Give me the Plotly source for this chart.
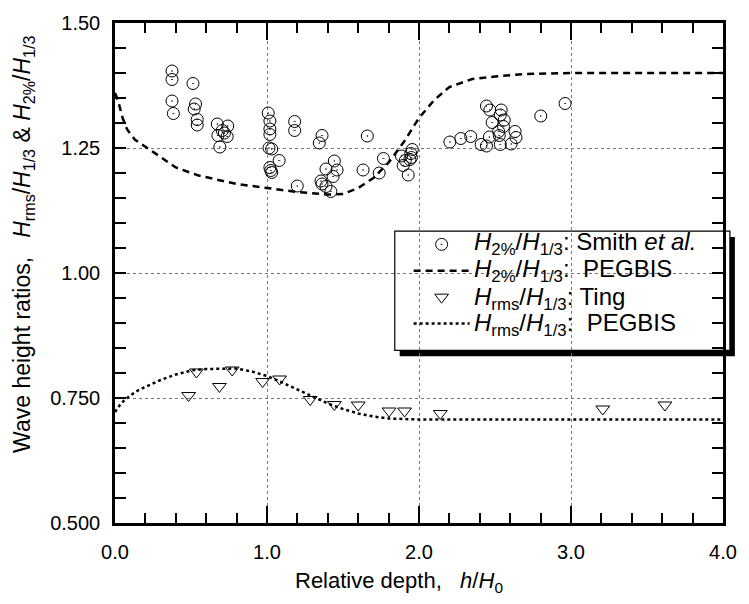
import plotly.graph_objects as go

# ---------------- data ----------------
smith_x = [0.375, 0.375, 0.375, 0.384,
           0.513, 0.530, 0.521, 0.541, 0.541,
           0.673, 0.742, 0.706, 0.738, 0.677, 0.690, 0.720,
           1.008, 1.019, 1.019, 1.019, 1.013, 1.031, 1.019, 1.031, 1.025, 1.080,
           1.182, 1.182, 1.199,
           1.362, 1.344,
           1.443, 1.388, 1.461, 1.435, 1.355, 1.362, 1.388, 1.420,
           1.660, 1.632, 1.738, 1.766,
           1.885, 1.956, 1.946, 1.896, 1.929, 1.950, 1.940, 1.910,
           2.203, 2.275, 2.340,
           2.444, 2.466, 2.541, 2.535, 2.561, 2.481, 2.524, 2.632, 2.638, 2.463,
           2.528, 2.409, 2.444, 2.535, 2.606, 2.556,
           2.801, 2.961]
smith_y = [1.404, 1.387, 1.344, 1.319,
           1.379, 1.338, 1.328, 1.307, 1.296,
           1.298, 1.294, 1.285, 1.273, 1.275, 1.252, 1.280,
           1.320, 1.304, 1.288, 1.277, 1.250, 1.248, 1.211, 1.201, 1.205, 1.225,
           1.303, 1.285, 1.174,
           1.275, 1.260,
           1.224, 1.208, 1.206, 1.193, 1.184, 1.178, 1.173, 1.163,
           1.274, 1.206, 1.200, 1.229,
           1.234, 1.247, 1.239, 1.215, 1.196, 1.231, 1.227, 1.225,
           1.262, 1.269, 1.273,
           1.334, 1.326, 1.326, 1.316, 1.306, 1.301, 1.283, 1.283, 1.271, 1.272,
           1.275, 1.257, 1.254, 1.257, 1.258, 1.293,
           1.314, 1.339]

ting_x = [0.484, 0.536, 0.687, 0.771, 0.971, 1.083, 1.284, 1.443, 1.600,
          1.803, 1.905, 2.140, 3.209, 3.618]
ting_y = [0.755, 0.802, 0.773, 0.806, 0.783, 0.788, 0.747, 0.737, 0.736,
          0.724, 0.724, 0.719, 0.728, 0.736]

peg2_x = [0.0, 0.02, 0.05, 0.08, 0.13, 0.2, 0.3, 0.4, 0.55, 0.8, 1.0, 1.2,
          1.4, 1.5, 1.6, 1.7, 1.8, 1.9, 2.0, 2.1, 2.2, 2.35, 2.5, 2.7, 3.0,
          3.5, 4.0]
peg2_y = [1.360, 1.345, 1.310, 1.287, 1.267, 1.252, 1.232, 1.211, 1.195,
          1.178, 1.170, 1.162, 1.157, 1.158, 1.170, 1.190, 1.221, 1.262,
          1.310, 1.346, 1.372, 1.388, 1.393, 1.398, 1.400, 1.400, 1.400]

pegr_x = [0.0, 0.03, 0.06, 0.1, 0.15, 0.2, 0.3, 0.4, 0.5, 0.6, 0.7, 0.8,
          0.9, 1.0, 1.1, 1.2, 1.3, 1.4, 1.5, 1.6, 1.7, 1.8, 1.9, 2.0, 2.5,
          3.0, 3.5, 4.0]
pegr_y = [0.722, 0.735, 0.745, 0.755, 0.765, 0.772, 0.786, 0.797, 0.805,
          0.808, 0.809, 0.809, 0.803, 0.794, 0.781, 0.767, 0.752, 0.739,
          0.728, 0.719, 0.713, 0.709, 0.708, 0.707, 0.707, 0.707, 0.707,
          0.707]

x_tickvals = [0, 1, 2, 3, 4]
x_ticktext = ["0.0", "1.0", "2.0", "3.0", "4.0"]
y_tickvals = [0.5, 0.75, 1.0, 1.25, 1.5]
y_ticktext = ["0.500", "0.750", "1.00", "1.25", "1.50"]

NB = "\u00a0"
H = "<i>H</i>"
legend_labels = [
    f"{H}<sub>2%</sub>/{H}<sub>1/3</sub>:{NB}Smith <i>et al.</i>",
    f"{H}<sub>2%</sub>/{H}<sub>1/3</sub>:{NB}{NB}PEGBIS",
    f"{H}<sub>rms</sub>/{H}<sub>1/3</sub>: Ting",
    f"{H}<sub>rms</sub>/{H}<sub>1/3</sub>:{NB}{NB}PEGBIS",
]
x_title = f"Relative depth,{NB}{NB}{NB}<i>h</i>/{H}<sub>0</sub>"
y_title = (f"Wave height ratios,{NB}{NB}{NB}{H}<sub>rms</sub>/{H}<sub>1/3</sub>"
           f" &amp; {H}<sub>2%</sub>/{H}<sub>1/3</sub>")

# ---------------- figure ----------------
FONT = "Liberation Sans, Arial, Helvetica, sans-serif"

fig = go.Figure()
fig.add_trace(go.Scatter(
    x=smith_x, y=smith_y, mode="markers", name=NB,
    hovertext="H2%/H1/3: Smith et al.",
    marker=dict(symbol="circle-open-dot", size=12, color="black",
                line=dict(width=1, color="black"))))
fig.add_trace(go.Scatter(
    x=peg2_x, y=peg2_y, mode="lines", name=NB + NB,
    hovertext="H2%/H1/3: PEGBIS",
    line=dict(color="black", width=2.5, dash="7px,5px")))
fig.add_trace(go.Scatter(
    x=ting_x, y=ting_y, mode="markers", name=NB * 3,
    hovertext="Hrms/H1/3: Ting",
    marker=dict(symbol="triangle-down-open", size=12, color="black",
                line=dict(width=1, color="black"))))
fig.add_trace(go.Scatter(
    x=pegr_x, y=pegr_y, mode="lines", name=NB * 4,
    hovertext="Hrms/H1/3: PEGBIS",
    line=dict(color="black", width=2.5, dash="3px,3px")))

L, R, T, B = 115, 19, 16, 81
W, HH = 749, 604
pw, ph = W - L - R, HH - T - B


def px2paper(px, py):
    return (px - L) / pw, (HH - B - py) / ph


# legend box with shadow (drawn between grid and traces)
sx0, sy0 = px2paper(403, 354)
sx1, sy1 = px2paper(742, 233)
bx0, by0 = px2paper(398, 348)
bx1, by1 = px2paper(737, 227)
fig.add_shape(type="rect", xref="paper", yref="paper", x0=sx0, y0=sy0,
              x1=sx1, y1=sy1, fillcolor="black", line=dict(width=0),
              layer="between")
fig.add_shape(type="rect", xref="paper", yref="paper", x0=bx0, y0=by0,
              x1=bx1, y1=by1, fillcolor="white",
              line=dict(width=1.2, color="black"), layer="between")

# legend text rows
row_py = [240, 267, 295, 322]
for lab, py in zip(legend_labels, row_py):
    ax_, ay_ = px2paper(476, py)
    fig.add_annotation(text=lab, xref="paper", yref="paper", x=ax_, y=ay_,
                       xanchor="left", yanchor="middle", showarrow=False,
                       font=dict(family=FONT, size=24, color="black"))

# axis titles
tx, ty = px2paper(402, 583)
fig.add_annotation(text=x_title, xref="paper", yref="paper", x=tx, y=ty,
                   xanchor="center", yanchor="middle", showarrow=False,
                   font=dict(family=FONT, size=22, color="black"))
yx, yy = px2paper(23, 241)
fig.add_annotation(text=y_title, xref="paper", yref="paper", x=yx, y=yy,
                   xanchor="center", yanchor="middle", showarrow=False,
                   textangle=-90,
                   font=dict(family=FONT, size=23, color="black"))

lx, ly = px2paper(412, 222)

axis_common = dict(
    showline=True, linecolor="black", linewidth=2.5, mirror="ticks",
    ticks="inside", tickcolor="black", tickwidth=2,
    showgrid=True, gridcolor="#777777", gridwidth=1, griddash="dot",
    zeroline=False, tickfont=dict(family=FONT, size=20, color="black"),
)

fig.update_layout(
    width=W, height=HH,
    margin=dict(l=L, r=R, t=T, b=B),
    paper_bgcolor="white", plot_bgcolor="white",
    font=dict(family=FONT, size=20, color="black"),
    showlegend=True,
    legend=dict(x=lx, y=ly, xanchor="left", yanchor="top",
                bgcolor="rgba(0,0,0,0)", borderwidth=0,
                font=dict(family=FONT, size=18, color="black"),
                itemwidth=56, tracegroupgap=0),
    xaxis=dict(range=[0, 4], tickmode="array", tickvals=x_tickvals,
               ticktext=x_ticktext, ticklen=17, ticklabelstandoff=9,
               minor=dict(tick0=0, dtick=0.2, ticklen=10, ticks="inside",
                          tickcolor="black", tickwidth=2, showgrid=False),
               **axis_common),
    yaxis=dict(range=[0.5, 1.5], tickmode="array", tickvals=y_tickvals,
               ticktext=y_ticktext, ticklen=11, ticklabelstandoff=8,
               minor=dict(tick0=0.5, dtick=0.05, ticklen=11, ticks="inside",
                          tickcolor="black", tickwidth=2, showgrid=False),
               **axis_common),
)

fig.write_html("out.html")
